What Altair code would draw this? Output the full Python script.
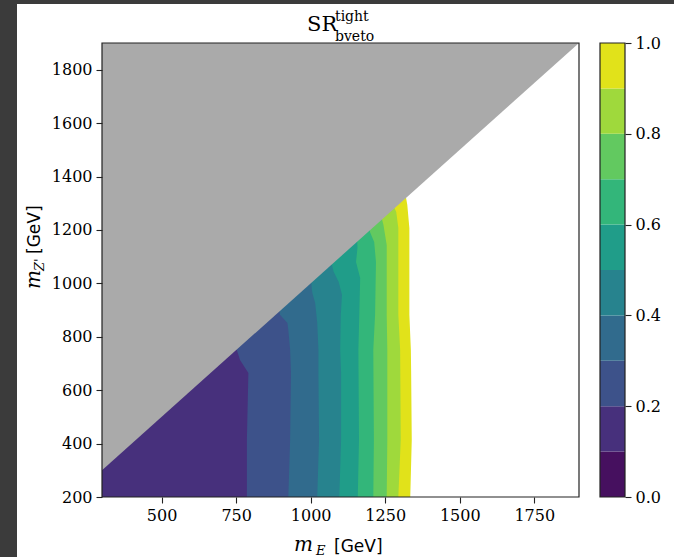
import altair as alt
import pandas as pd

# ---- plane and axes -------------------------------------------------------
ME_DOMAIN = [300, 1900]          # m_E [GeV]
MZ_DOMAIN = [200, 1900]          # m_Z' [GeV]
ME_TICKS = [500, 750, 1000, 1250, 1500, 1750]
MZ_TICKS = [200, 400, 600, 800, 1000, 1200, 1400, 1600, 1800]
CB_TICKS = [0.0, 0.2, 0.4, 0.6, 0.8, 1.0]

# ---- colour levels (contourf bands 0.0 .. 1.0 in steps of 0.1) -------------
LEVEL_EDGES = [0.0, 0.1, 0.2, 0.3, 0.4, 0.5, 0.6, 0.7, 0.8, 0.9, 1.0]
BAND_COLORS = ["#46105f", "#47307c", "#3d528a", "#316b8d", "#27838e",
               "#209d89", "#33b67a", "#62c960", "#9fd93c", "#e1e21a"]
EXCLUDED_COLOR = "#aaaaaa"

# ---- iso-efficiency lines: m_E position along m_Z' -------------------------
iso_02_mz = [200, 413, 664, 713, 751]
iso_02_me = [786, 786, 791, 763, 752]

iso_03_mz = [200, 413, 664, 751, 825, 852, 882, 900]
iso_03_me = [925, 931, 934, 931, 925, 922, 897, 895]

iso_04_mz = [200, 413, 664, 751, 852, 927, 957, 975, 1005]
iso_04_me = [1022, 1028, 1026, 1026, 1022, 1015, 1007, 1004, 1002]

iso_05_mz = [200, 413, 664, 751, 882, 957, 1005, 1043, 1075]
iso_05_me = [1096, 1102, 1102, 1099, 1101, 1105, 1094, 1077, 1070]

iso_06_mz = [200, 413, 751, 882, 1020, 1080, 1133, 1160]
iso_06_me = [1158, 1162, 1160, 1163, 1166, 1152, 1157, 1156]

iso_07_mz = [200, 413, 751, 882, 1080, 1155, 1192, 1205]
iso_07_me = [1210, 1212, 1210, 1216, 1219, 1213, 1199, 1198]

iso_08_mz = [200, 413, 751, 882, 1144, 1219, 1245]
iso_08_me = [1255, 1257, 1257, 1255, 1255, 1244, 1238]

iso_09_mz = [200, 413, 751, 882, 1207, 1267, 1285]
iso_09_me = [1294, 1302, 1300, 1294, 1294, 1287, 1280]

iso_10_mz = [200, 413, 664, 751, 882, 1207, 1294, 1320]
iso_10_me = [1334, 1339, 1337, 1336, 1331, 1331, 1324, 1320]

ISO_LINES = [
    (0.2, iso_02_mz, iso_02_me),
    (0.3, iso_03_mz, iso_03_me),
    (0.4, iso_04_mz, iso_04_me),
    (0.5, iso_05_mz, iso_05_me),
    (0.6, iso_06_mz, iso_06_me),
    (0.7, iso_07_mz, iso_07_me),
    (0.8, iso_08_mz, iso_08_me),
    (0.9, iso_09_mz, iso_09_me),
    (1.0, iso_10_mz, iso_10_me),
]

# ---- styling ----------------------------------------------------------------
SERIF = "DejaVu Serif"
SANS = "DejaVu Sans"
W, H = 477, 454
PAD_L, PAD_T = 102, 43

x_axis = alt.Axis(values=ME_TICKS, format="d", title=None, grid=False,
                  tickSize=6, labelPadding=4, domain=False, zindex=1)
y_axis = alt.Axis(values=MZ_TICKS, format="d", title=None, grid=False,
                  tickSize=6, labelPadding=4, domain=False, zindex=1)
x_scale = alt.Scale(domain=ME_DOMAIN, nice=False, zero=False)
y_scale = alt.Scale(domain=MZ_DOMAIN, nice=False, zero=False)

one_row = pd.DataFrame({"k": [0]})

# filled bands: region left of each iso-line, painted from the highest level
# down so that lower bands overwrite higher ones
band_layers = []
for level, mz, me in sorted(ISO_LINES, key=lambda t: -t[0]):
    idx = LEVEL_EDGES.index(level) - 1
    df = pd.DataFrame({"m_Z": mz, "m_E": me})
    df["m_E_lo"] = ME_DOMAIN[0]
    band_layers.append(
        alt.Chart(df).mark_area(orient="horizontal", color=BAND_COLORS[idx],
                                opacity=1)
        .encode(
            y=alt.Y("m_Z:Q", scale=y_scale, axis=y_axis),
            x=alt.X("m_E:Q", scale=x_scale, axis=x_axis),
            x2="m_E_lo:Q",
        )
    )

# kinematically excluded region m_Z' > m_E
excl = pd.DataFrame({"m_E": ME_DOMAIN})
excl["m_Z"] = excl["m_E"]
excl["m_Z_top"] = MZ_DOMAIN[1]
excluded = (
    alt.Chart(excl).mark_area(color=EXCLUDED_COLOR, opacity=1)
    .encode(
        x=alt.X("m_E:Q", scale=x_scale, axis=x_axis),
        y=alt.Y("m_Z:Q", scale=y_scale, axis=y_axis),
        y2="m_Z_top:Q",
    )
)


def frame(x0, x1, y0, y1, fill=None, stroke=None, width=1.0):
    kw = {}
    if fill is not None:
        kw["fill"] = fill
    else:
        kw["fillOpacity"] = 0
    if stroke is not None:
        kw["stroke"] = stroke
        kw["strokeWidth"] = width
    return alt.Chart(one_row).mark_rect(**kw).encode(
        x=alt.value(x0), x2=alt.value(x1), y=alt.value(y0), y2=alt.value(y1))


def label(s, x, y, font=SERIF, size=15, style="normal", angle=0):
    kw = dict(font=font, fontSize=size, fontStyle=style, align="left",
              baseline="alphabetic", color="black")
    if angle:
        kw["angle"] = angle
    return alt.Chart(pd.DataFrame({"t": [s]})).mark_text(**kw).encode(
        x=alt.value(x), y=alt.value(y), text="t:N")


# page border strips
border = [
    frame(-PAD_L, -PAD_L + 17, -PAD_T, H + 60, fill="#3b3b3b"),
    frame(-PAD_L, W + 95, -PAD_T, -PAD_T + 4, fill="#3b3b3b"),
]

texts = [
    # title SR^tight_bveto
    label("SR", 205, -12, size=21),
    label("tight", 233, -22, size=14),
    label("bveto", 233, -2, size=14),
    # x title  m_E [GeV]
    label("m", 192, 508, size=20, style="italic"),
    label("E", 214, 512, size=13, style="italic"),
    label("[GeV]", 232, 509, font=SANS, size=17),
    # y title  m_Z' [GeV]
    label("m", -62, 246, size=20, style="italic", angle=270),
    label("Z'", -58, 228, size=13, style="italic", angle=270),
    label("[GeV]", -62, 211, font=SANS, size=17, angle=270),
]

plot = alt.layer(
    *band_layers,
    excluded,
    frame(0, W, 0, H, stroke="#222222", width=1.2),
    *border,
    *texts,
)

# colour bar
cb = pd.DataFrame({
    "lo": LEVEL_EDGES[:-1],
    "hi": LEVEL_EDGES[1:],
    "band": [str(i) for i in range(len(BAND_COLORS))],
})
CB_X0, CB_X1 = 498, 523
colorbar = alt.layer(
    alt.Chart(cb).mark_rect().encode(
        x=alt.value(CB_X0), x2=alt.value(CB_X1),
        y=alt.Y("lo:Q", scale=alt.Scale(domain=[0, 1], nice=False),
                axis=alt.Axis(orient="right", offset=CB_X1 - W,
                              values=CB_TICKS, format=".1f", title=None,
                              grid=False, domain=False, tickSize=6,
                              labelPadding=4, zindex=1)),
        y2="hi:Q",
        color=alt.Color("band:N",
                        scale=alt.Scale(domain=list(cb["band"]),
                                        range=BAND_COLORS),
                        legend=None),
    ),
    frame(CB_X0, CB_X1, 0, H, stroke="#222222", width=1.2),
)

chart = (
    alt.layer(plot, colorbar)
    .resolve_scale(y="independent", color="independent")
    .properties(
        width=W, height=H,
        padding={"left": PAD_L, "top": PAD_T, "right": 674 - PAD_L - W,
                 "bottom": 557 - PAD_T - H},
        autosize=alt.AutoSizeParams(type="none"),
        background="white",
    )
    .configure_view(stroke=None)
    .configure_axis(labelFont=SERIF, labelFontSize=16, labelColor="black",
                    tickColor="#222222", tickWidth=1.1)
)

chart.save("out.html", embed_options={"renderer": "svg", "actions": False})
